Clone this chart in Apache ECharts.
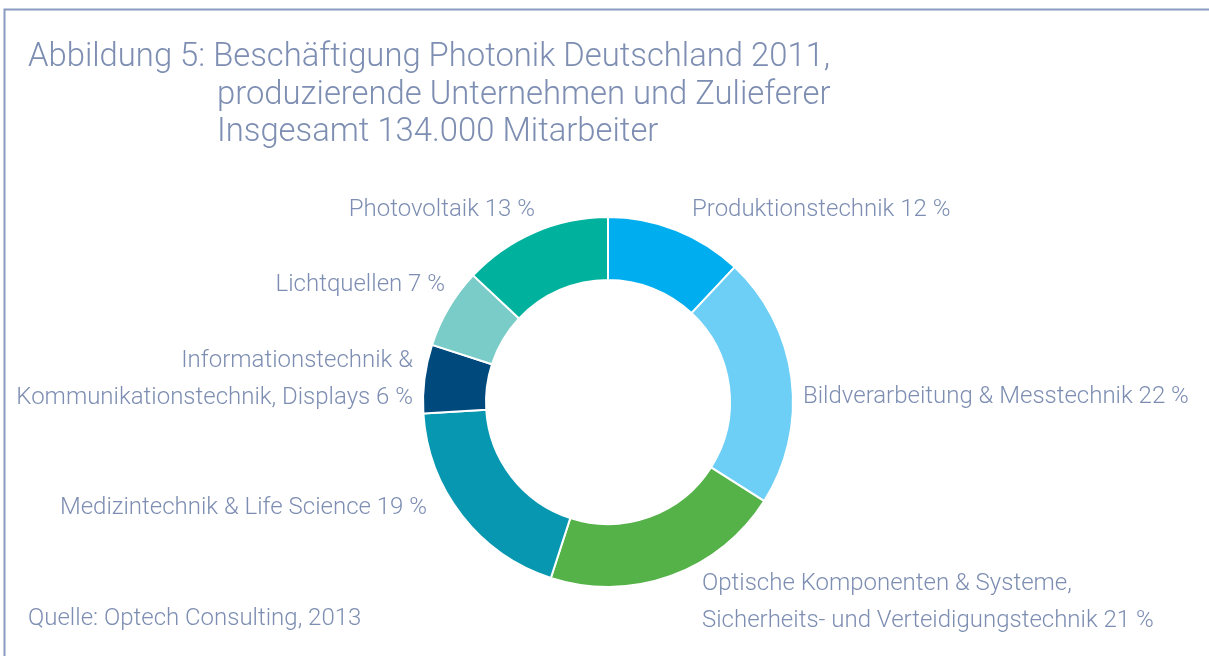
<!DOCTYPE html>
<html>
<head>
<meta charset="utf-8">
<script src="https://cdn.jsdelivr.net/npm/echarts@6/dist/echarts.min.js"></script>
<style>
  html, body { margin: 0; padding: 0; background: #fff; }
  #main { width: 1209px; height: 656px; }
</style>
</head>
<body>
<div id="main"></div>
<script>
// Segmente im Uhrzeigersinn ab 12 Uhr
const categories = [
  'Produktionstechnik',
  'Bildverarbeitung & Messtechnik',
  'Optische Komponenten & Systeme,\nSicherheits- und Verteidigungstechnik',
  'Medizintechnik & Life Science',
  'Informationstechnik &\nKommunikationstechnik, Displays',
  'Lichtquellen',
  'Photovoltaik'
]
const shares = [12, 22, 21, 19, 6, 7, 13]
const colors = ['#00aeef', '#6dcff6', '#54b248', '#0897b0', '#00497d', '#7accc8', '#00b29d']
const titleLines = [
  'Abbildung 5: Beschäftigung Photonik Deutschland 2011,',
  'produzierende Unternehmen und Zulieferer',
  'Insgesamt 134.000 Mitarbeiter'
]
const sourceText = 'Quelle: Optech Consulting, 2013'

// Label-Platzierung (x, y, Ausrichtung)
const labelPos = [
  [692, 210, 'left'],
  [803, 397, 'left'],
  [702, 602, 'left'],
  [427, 508, 'right'],
  [413, 379, 'right'],
  [445, 285, 'right'],
  [535, 210, 'right']
]

const textColor = '#7d8eb2'
const font = 'Roboto, "Liberation Sans", sans-serif'

const pieData = categories.map((name, i) => ({
  name: name,
  value: shares[i],
  itemStyle: { color: colors[i] }
}))

var myChart = echarts.init(document.getElementById('main'), null, { renderer: 'canvas' })
myChart.setOption({
  animation: false,
  graphic: [
    {
      type: 'polyline',
      shape: { points: [[4.5, 656], [4.5, 9.5], [1209, 9.5]] },
      style: { stroke: '#8a9bc2', lineWidth: 2, fill: null }
    },
    {
      type: 'text', left: 28, top: 41,
      style: { text: titleLines[0], fill: textColor, font: '300 32.8px ' + font }
    },
    {
      type: 'text', left: 217, top: 79,
      style: { text: titleLines[1], fill: textColor, font: '300 32.8px ' + font }
    },
    {
      type: 'text', left: 217, top: 116,
      style: { text: titleLines[2], fill: textColor, font: '300 32.8px ' + font }
    },
    {
      type: 'text', left: 28, top: 607,
      style: { text: sourceText, fill: textColor, font: '300 24px ' + font }
    }
  ],
  series: [
    {
      type: 'pie',
      center: [608, 402],
      radius: [122, 185],
      startAngle: 90,
      clockwise: true,
      itemStyle: { borderColor: '#fff', borderWidth: 2 },
      label: {
        show: true,
        position: 'outside',
        overflow: 'none',
        color: textColor,
        fontFamily: font,
        fontWeight: 300,
        fontSize: 24,
        lineHeight: 37,
        formatter: p => p.name + ' ' + p.value + ' %'
      },
      labelLine: { show: false },
      labelLayout: p => {
        const pos = labelPos[p.dataIndex]
        return { x: pos[0], y: pos[1], align: pos[2], verticalAlign: 'middle' }
      },
      emphasis: { disabled: true },
      data: pieData
    }
  ]
})
</script>
</body>
</html>
